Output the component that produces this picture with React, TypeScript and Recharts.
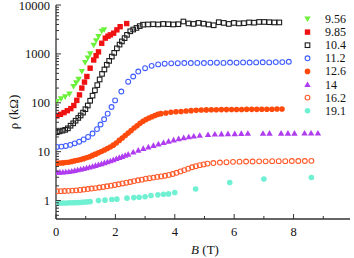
import React from 'react';
import { ScatterChart, Scatter, XAxis, YAxis, Legend, Label } from 'recharts';

// field values (legend labels)
const FIELDS = ['9.56', '9.85', '10.4', '11.2', '12.6', '14', '16.2', '19.1'];

const B_956 = [0.03, 0.17, 0.31, 0.45, 0.59, 0.68, 0.76, 0.87, 0.98, 1.07, 1.15, 1.27, 1.35, 1.43, 1.54, 1.62];
const R_956 = [106, 120, 132, 150, 215, 255, 300, 435, 660, 820, 1000, 1500, 1850, 2250, 2900, 3100];

const B_985 = [0.03, 0.15, 0.27, 0.38, 0.5, 0.6, 0.7, 0.79, 0.87, 0.96, 1.04, 1.15, 1.27, 1.35, 1.43, 1.54, 1.66, 1.75, 1.83, 1.94, 2.05, 2.16, 2.38];
const R_985 = [54, 58, 63, 69, 76, 88, 112, 145, 200, 265, 345, 510, 750, 920, 1100, 1650, 2100, 2300, 2450, 2650, 3100, 3600, 4170];

const B_104 = [0.03, 0.12, 0.22, 0.31, 0.4, 0.49, 0.58, 0.66, 0.75, 0.83, 0.91, 0.99, 1.07, 1.15, 1.23, 1.31, 1.39, 1.47, 1.55, 1.63, 1.71, 1.79, 1.88, 1.96, 2.05, 2.14, 2.22, 2.31, 2.39, 2.5, 2.6, 2.71, 2.82, 2.93,
  3.1, 3.27, 3.44, 3.61, 3.78, 3.95, 4.12, 4.29, 4.46, 4.63, 4.8, 4.97, 5.14, 5.31, 5.48, 5.65, 5.82, 5.99, 6.16, 6.33, 6.5, 6.67, 6.84, 7.01, 7.18, 7.35, 7.52];
const R_104 = [25, 26, 27, 28, 30, 34, 38, 43, 49, 55, 63, 74, 88, 110, 140, 180, 230, 300, 390, 480, 600, 720, 880, 1050, 1300, 1550, 1800, 2100, 2450, 2900, 3150, 3400, 3700, 3960,
  4000, 4050, 4000, 4100, 4050, 4000, 4050, 4600, 4200, 4100, 4300, 4150, 4000, 3850, 4450, 4300, 4100, 4300, 4200, 4250, 4400, 4350, 4500, 4500, 4450, 4400, 4400];

const B_112 = [0.03, 0.18, 0.33, 0.48, 0.63, 0.78, 0.93, 1.08, 1.23, 1.38, 1.5, 1.62, 1.74, 1.87, 1.99, 2.2, 2.43, 2.6, 2.77, 3.0, 3.22, 3.44, 3.66,
  3.88, 4.1, 4.32, 4.54, 4.76, 4.98, 5.2, 5.42, 5.64, 5.86, 6.08, 6.3, 6.52, 6.74, 6.96, 7.18, 7.4, 7.62, 7.84];
const R_112 = [12.5, 12.7, 13.1, 13.8, 14.8, 16, 17.8, 20, 23.5, 29, 36, 46, 60, 82, 112, 170, 270, 345, 435, 510, 570, 610, 630,
  640, 645, 650, 650, 655, 650, 660, 660, 655, 665, 660, 670, 665, 670, 675, 670, 680, 680, 690];

const B_126 = [0.03, 0.13, 0.23, 0.33, 0.43, 0.53, 0.63, 0.73, 0.83, 0.93, 1.03, 1.13, 1.23, 1.33, 1.43, 1.53, 1.63, 1.73, 1.83, 1.93, 2.03, 2.13, 2.23, 2.33, 2.43, 2.53, 2.63, 2.73, 2.83, 2.93, 3.03, 3.13, 3.23, 3.33, 3.43, 3.53,
  3.7, 3.87, 4.04, 4.21, 4.38, 4.55, 4.72, 4.89, 5.06, 5.23, 5.4, 5.57, 5.74, 5.91, 6.08, 6.25, 6.42, 6.59, 6.76, 6.93, 7.1, 7.27, 7.44, 7.61];
const R_126 = [5.8, 5.85, 5.9, 6.0, 6.1, 6.3, 6.5, 6.7, 6.9, 7.2, 7.5, 7.9, 8.4, 8.9, 9.5, 10.1, 10.8, 11.6, 12.5, 13.6, 15, 17, 19, 21.5, 24, 27, 30.5, 34, 38, 42, 45.5, 49, 52, 55, 58, 60,
  62, 64, 65.5, 66.5, 68, 69, 70, 71, 71.5, 72, 72, 72.5, 72.5, 73, 73, 73, 73.5, 73.5, 73.5, 74, 74, 74, 74.5, 74.5];

const B_14 = [0.03, 0.13, 0.23, 0.33, 0.43, 0.53, 0.63, 0.73, 0.83, 0.93, 1.03, 1.13, 1.23, 1.33, 1.43, 1.53, 1.63, 1.73, 1.83, 1.93, 2.03, 2.13, 2.23, 2.33, 2.43,
  2.6, 2.77, 2.94, 3.11, 3.28, 3.45, 3.62, 3.79, 3.96, 4.13, 4.3, 4.47, 4.64,
  4.84, 5.12, 5.35, 5.57, 5.79, 6.02, 6.24, 6.46, 6.97, 7.19, 7.58, 7.81, 8.03, 8.37, 8.59, 8.82];
const R_14 = [3.8, 3.82, 3.85, 3.9, 3.95, 4.05, 4.15, 4.27, 4.4, 4.55, 4.7, 4.88, 5.05, 5.25, 5.48, 5.72, 5.98, 6.25, 6.55, 6.9, 7.25, 7.65, 8.05, 8.5, 8.95,
  9.9, 10.8, 11.7, 12.6, 13.5, 14.5, 15.5, 16.5, 17.5, 18.5, 19.4, 20.2, 21,
  21.8, 22.5, 23, 23.2, 23.5, 23.5, 23.7, 23.8, 23.8, 24, 24, 24, 24, 24.2, 24.2, 24.2];

const B_162 = [0.03, 0.16, 0.29, 0.42, 0.55, 0.68, 0.81, 0.94, 1.07, 1.2, 1.33, 1.46, 1.59, 1.72, 1.85, 1.98, 2.11, 2.24, 2.37, 2.5, 2.63, 2.76, 2.89, 3.02, 3.15, 3.28, 3.41, 3.54, 3.67, 3.8, 3.93, 4.06, 4.19, 4.32, 4.45, 4.58, 4.71, 4.84, 4.97, 5.1,
  5.3, 5.52, 5.74, 5.96, 6.18, 6.4, 6.62, 6.84, 7.06, 7.28, 7.5, 7.72, 7.94, 8.16, 8.38, 8.6];
const R_162 = [1.55, 1.56, 1.57, 1.58, 1.6, 1.62, 1.65, 1.68, 1.72, 1.76, 1.8, 1.85, 1.9, 1.96, 2.02, 2.09, 2.16, 2.24, 2.32, 2.4, 2.5, 2.6, 2.68, 2.8, 2.87, 2.95, 3.05, 3.12, 3.22, 3.35, 3.5, 3.7, 3.95, 4.2, 4.5, 4.8, 5.05, 5.3, 5.5, 5.7,
  5.85, 6.0, 6.1, 6.2, 6.25, 6.3, 6.3, 6.35, 6.35, 6.4, 6.4, 6.4, 6.45, 6.45, 6.45, 6.5];

const B_191 = [0.05, 0.15, 0.25, 0.35, 0.45, 0.55, 0.65, 0.75, 0.85, 0.95, 1.05, 1.15, 1.43, 1.65, 1.88, 2.05, 2.39, 2.62, 2.8, 3.0, 3.2, 3.43, 3.62, 3.79, 4.0, 4.7, 5.85, 7.0, 8.6];
const R_191 = [0.88, 0.88, 0.89, 0.89, 0.9, 0.9, 0.91, 0.91, 0.92, 0.93, 0.94, 0.95, 1.0, 1.02, 1.05, 1.07, 1.12, 1.15, 1.17, 1.2, 1.27, 1.31, 1.35, 1.37, 1.46, 1.72, 2.34, 2.75, 2.96];

const X_TICKS = [0, 1, 2, 3, 4, 5, 6, 7, 8, 9];
const X_LABELED = [0, 2, 4, 6, 8];
const Y_MAJOR = [1, 10, 100, 1000, 10000];
const Y_TICKS = [0.5, 0.6, 0.7, 0.8, 0.9, 1, 2, 3, 4, 5, 6, 7, 8, 9, 10, 20, 30, 40, 50, 60, 70, 80, 90, 100,
  200, 300, 400, 500, 600, 700, 800, 900, 1000, 2000, 3000, 4000, 5000, 6000, 7000, 8000, 9000, 10000];

const toPoints = (b: number[], r: number[]) => b.map((x, i) => ({ x, y: r[i] }));

const SERIES = [
  { name: FIELDS[0], data: toPoints(B_956, R_956), color: '#6cf03a', kind: 'triDown' },
  { name: FIELDS[1], data: toPoints(B_985, R_985), color: '#f01212', kind: 'square' },
  { name: FIELDS[2], data: toPoints(B_104, R_104), color: '#1e1e1e', kind: 'squareOpen' },
  { name: FIELDS[3], data: toPoints(B_112, R_112), color: '#3f5cff', kind: 'circleOpen' },
  { name: FIELDS[4], data: toPoints(B_126, R_126), color: '#ff4a0c', kind: 'circle' },
  { name: FIELDS[5], data: toPoints(B_14, R_14), color: '#b03cf0', kind: 'triUp' },
  { name: FIELDS[6], data: toPoints(B_162, R_162), color: '#ff5a2a', kind: 'circleOpen' },
  { name: FIELDS[7], data: toPoints(B_191, R_191), color: '#70f0d2', kind: 'circle' },
];

const AXIS = '#333';
const SERIF = 'Liberation Serif';

const marker = (kind: string, color: string, cx: number, cy: number) => {
  switch (kind) {
    case 'triDown':
      return <polygon points={`${cx - 3.2},${cy - 2.6} ${cx + 3.2},${cy - 2.6} ${cx},${cy + 3}`} fill={color} />;
    case 'triUp':
      return <polygon points={`${cx - 3.2},${cy + 2.6} ${cx + 3.2},${cy + 2.6} ${cx},${cy - 3}`} fill={color} />;
    case 'square':
      return <rect x={cx - 2.7} y={cy - 2.7} width={5.4} height={5.4} fill={color} />;
    case 'squareOpen':
      return <rect x={cx - 2.3} y={cy - 2.3} width={4.6} height={4.6} fill="none" stroke={color} strokeWidth={1.1} />;
    case 'circleOpen':
      return <circle cx={cx} cy={cy} r={2.4} fill="none" stroke={color} strokeWidth={1.1} />;
    default:
      return <circle cx={cx} cy={cy} r={2.8} fill={color} />;
  }
};

const txt = (size: number) => ({ style: { fontFamily: SERIF, fontSize: size }, fill: '#111' });

const LeftTick = (p: any) => {
  const v = p.payload.value;
  const major = Y_MAJOR.includes(v);
  return (
    <g>
      <line x1={p.x} x2={p.x + (major ? 5 : 3)} y1={p.y} y2={p.y} stroke={AXIS} />
      {major && <text x={p.x - 6} y={p.y + 4.5} textAnchor="end" {...txt(12.5)}>{v}</text>}
    </g>
  );
};

const RightTick = (p: any) => {
  const major = Y_MAJOR.includes(p.payload.value);
  return <line x1={p.x} x2={p.x - (major ? 5 : 3)} y1={p.y} y2={p.y} stroke={AXIS} />;
};

const BottomTick = (p: any) => {
  const v = p.payload.value;
  const major = X_LABELED.includes(v);
  return (
    <g>
      <line x1={p.x} x2={p.x} y1={p.y} y2={p.y - (major ? 5 : 3)} stroke={AXIS} />
      {major && <text x={p.x} y={p.y + 17} textAnchor="middle" {...txt(12.5)}>{v}</text>}
    </g>
  );
};

const TopTick = (p: any) => {
  const major = X_LABELED.includes(p.payload.value);
  return <line x1={p.x} x2={p.x} y1={p.y} y2={p.y + (major ? 5 : 3)} stroke={AXIS} />;
};

const LegendBox = () => (
  <svg width={58} height={110}>
    {SERIES.map((s, i) => (
      <g key={s.name}>
        {marker(s.kind, s.color, 11.5, 9 + i * 13.1)}
        <text x={29} y={13 + i * 13.1} {...txt(12)}>{s.name}</text>
      </g>
    ))}
  </svg>
);

export default function App() {
  return (
    <div style={{ position: 'absolute', left: 0, top: 0 }}>
      <ScatterChart width={354} height={258} margin={{ top: 5, right: 4, bottom: 0, left: 0 }}>
        <XAxis dataKey="x" type="number" domain={[0, 9.9]} ticks={X_TICKS} interval={0}
          height={39} tickSize={0} tickMargin={0} tick={<BottomTick />}
          axisLine={{ stroke: AXIS, strokeWidth: 1.3 }} allowDataOverflow>
          <Label content={() => (
            <text x={205} y={254} textAnchor="middle" {...txt(13)}>
              <tspan fontStyle="italic">B</tspan> (T)
            </text>
          )} />
        </XAxis>
        <XAxis xAxisId="top" orientation="top" type="number" domain={[0, 9.9]} ticks={X_TICKS} interval={0}
          height={0} tickSize={0} tickMargin={0} tick={<TopTick />}
          axisLine={{ stroke: AXIS, strokeWidth: 1.3 }} allowDataOverflow />
        <YAxis dataKey="y" type="number" scale="log" domain={[0.42, 10000]} ticks={Y_TICKS} interval={0}
          width={56} tickSize={0} tickMargin={0} tick={<LeftTick />}
          axisLine={{ stroke: AXIS, strokeWidth: 1.3 }} allowDataOverflow>
          <Label content={() => (
            <text x={18} y={112} transform="rotate(-90 18 112)" textAnchor="middle" {...txt(13)}>
              ρ (kΩ)
            </text>
          )} />
        </YAxis>
        <YAxis yAxisId="right" orientation="right" type="number" scale="log" domain={[0.42, 10000]} ticks={Y_TICKS} interval={0}
          width={0} tickSize={0} tickMargin={0} tick={<RightTick />}
          axisLine={{ stroke: AXIS, strokeWidth: 1.3 }} allowDataOverflow />
        {SERIES.map((s) => (
          <Scatter key={s.name} name={s.name} data={s.data} isAnimationActive={false}
            shape={(p: any) => marker(s.kind, s.color, p.cx, p.cy)} />
        ))}
        <Legend layout="vertical" align="center" verticalAlign="middle" content={<LegendBox />}
          wrapperStyle={{ position: 'absolute', left: 296, top: 10, width: 58, height: 110 }} />
      </ScatterChart>
    </div>
  );
}
